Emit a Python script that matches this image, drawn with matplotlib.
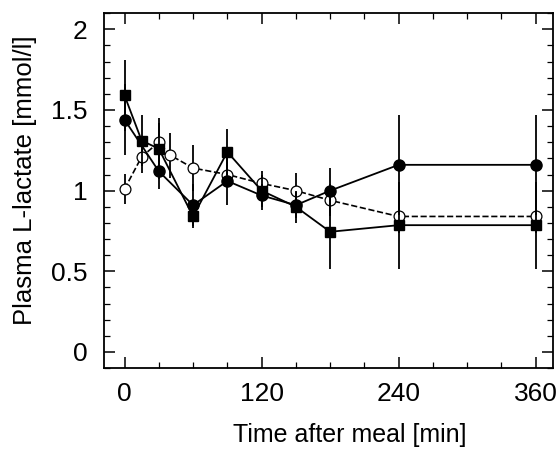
import matplotlib.pyplot as plt
from matplotlib.ticker import MultipleLocator

plt.rcParams['font.family'] = ['Liberation Sans', 'DejaVu Sans']

# filled squares
t_sq = [0, 15, 30, 60, 90, 120, 150, 180, 240, 360]
y_sq = [1.59, 1.31, 1.26, 0.84, 1.24, 1.00, 0.90, 0.745, 0.786, 0.786]
e_sq = [0.22, 0.16, 0.19, 0.07, 0.14, 0.12, 0.10, 0.23, 0.27, 0.27]

# filled circles
t_fc = [0, 30, 60, 90, 120, 150, 180, 240, 360]
y_fc = [1.44, 1.12, 0.91, 1.06, 0.97, 0.91, 1.00, 1.16, 1.16]
e_fc = [0.22, 0.11, 0.13, 0.15, 0.07, 0.08, 0.14, 0.31, 0.31]

# open circles (dashed)
t_oc = [0, 15, 30, 40, 60, 90, 120, 150, 180, 240, 360]
y_oc = [1.01, 1.21, 1.30, 1.22, 1.14, 1.10, 1.045, 1.00, 0.94, 0.84, 0.84]
e_oc = [0.095, 0.10, 0.12, 0.14, 0.14, 0.08, 0.05, 0.11, 0.10, 0.10, 0.10]

fig = plt.figure(figsize=(5.59, 4.55), dpi=100)
ax = fig.add_axes([0.186, 0.191, 0.803, 0.780])

ax.errorbar(t_oc, y_oc, yerr=e_oc, fmt='o', ls='--', color='black', mfc='white',
            mec='black', mew=0.9, ms=7.8, lw=1.2, elinewidth=1.3, capsize=0, zorder=2)
ax.errorbar(t_sq, y_sq, yerr=e_sq, fmt='s', ls='-', color='black',
            ms=7, lw=1.3, elinewidth=1.3, capsize=0, zorder=3)
ax.errorbar(t_fc, y_fc, yerr=e_fc, fmt='o', ls='-', color='black',
            ms=8, lw=1.3, elinewidth=1.3, capsize=0, zorder=4)

ax.set_xlim(-18, 375)
ax.set_ylim(-0.1, 2.1)
ax.xaxis.set_major_locator(MultipleLocator(120))
ax.xaxis.set_minor_locator(MultipleLocator(30))
ax.yaxis.set_major_locator(MultipleLocator(0.5))
ax.yaxis.set_minor_locator(MultipleLocator(0.1))
ax.set_yticks([0, 0.5, 1, 1.5, 2])
ax.set_yticklabels(['0', '0.5', '1', '1.5', '2'])

ax.tick_params(which='both', direction='in', top=True, right=True, labelsize=19)
ax.tick_params(which='major', length=8, width=1.1)
ax.tick_params(axis='x', which='major', pad=10)
ax.tick_params(axis='y', which='major', pad=12)
ax.tick_params(which='minor', length=4, width=0.9)
for s in ax.spines.values():
    s.set_linewidth(1.3)

ax.set_xlabel('Time after meal [min]', fontsize=18)
ax.xaxis.set_label_coords(0.548, -0.155)
ax.set_ylabel('Plasma L-lactate [mmol/l]', fontsize=18.5)
ax.yaxis.set_label_coords(-0.15, 0.53)

fig.savefig('out.png', dpi=100)
